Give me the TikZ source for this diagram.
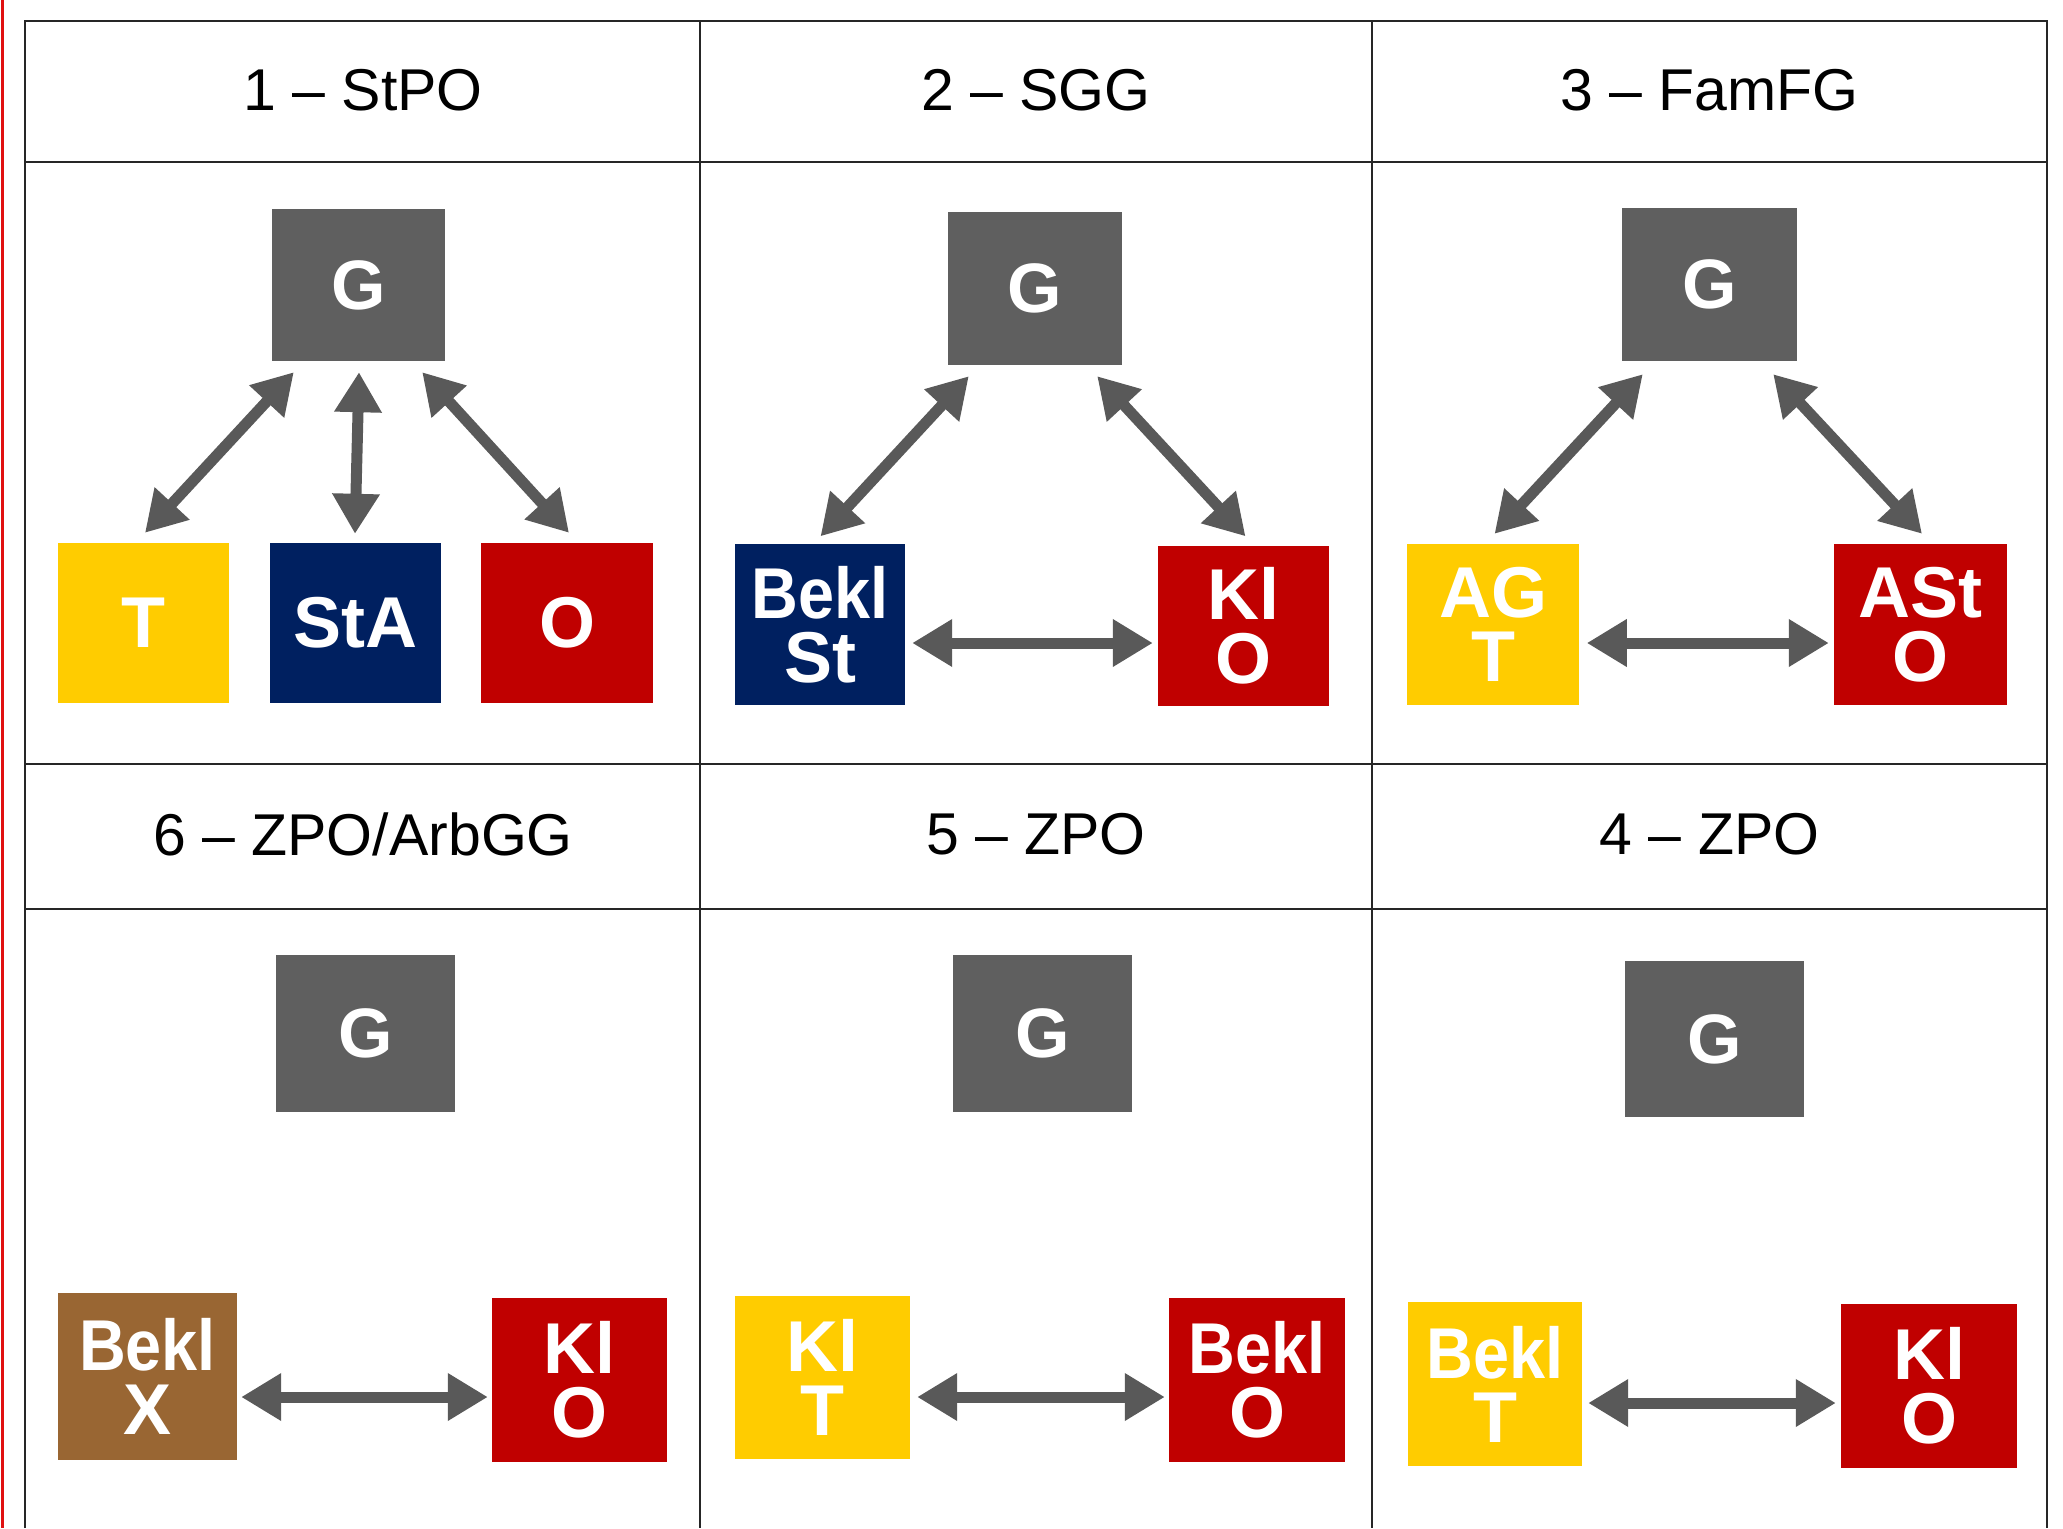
\documentclass[tikz,border=0pt]{standalone}
\usepackage{fontspec}
\setmainfont{Liberation Sans}
\usetikzlibrary{arrows.meta,calc}
\definecolor{ggray}{HTML}{5F5F5F}
\definecolor{gyell}{HTML}{FFCC00}
\definecolor{gnavy}{HTML}{002060}
\definecolor{gred}{HTML}{C00000}
\definecolor{gbrown}{HTML}{996633}
\definecolor{garrow}{HTML}{595959}
\definecolor{gline}{HTML}{262626}
\definecolor{gredline}{HTML}{E01010}
\newcommand\narrowtxt[1]{\scalebox{0.9}[1]{#1}}
\begin{document}
\begin{tikzpicture}[x=1pt,y=-1pt,
  lbl/.style={draw=none,inner sep=0pt,text=white,align=center,
    font=\fontsize{72}{64}\selectfont\bfseries},
  gbox/.style={lbl,fill=ggray,font=\fontsize{70}{64}\selectfont\bfseries},
  ybox/.style={lbl,fill=gyell},
  nbox/.style={lbl,fill=gnavy},
  rbox/.style={lbl,fill=gred},
  bbox/.style={lbl,fill=gbrown},
  sz/.style 2 args={minimum width=#1pt,minimum height=#2pt},
  head/.style={inner sep=0pt,text=black,font=\fontsize{59}{70}\selectfont},
  dbl/.style={draw=garrow,line width=11pt,
    {Triangle[width=45pt,length=40pt]}-{Triangle[width=45pt,length=40pt]}},
  grid/.style={draw=gline,line width=1.8pt}]
\useasboundingbox (0,0) rectangle (2063,1528);
\fill[white] (0,0) rectangle (2063,1528);
% red edge line
\draw[gredline,line width=3pt] (2.5,0) -- (2.5,1528);
% table
\draw[grid] (25,1528) -- (25,21) -- (2047,21) -- (2047,1528);
\draw[grid] (700,21) -- (700,1528);
\draw[grid] (1372,21) -- (1372,1528);
\draw[grid] (25,162) -- (2047,162);
\draw[grid] (25,764) -- (2047,764);
\draw[grid] (25,909) -- (2047,909);
% headers
\node[head] (h1) at (363,90) {1 – StPO};
\node[head] (h2) at (1036,90) {2 – SGG};
\node[head] (h3) at (1709.5,90) {3 – FamFG};
\node[head] (h6) at (363,834) {6 – ZPO/ArbGG};
\node[head] (h5) at (1036,834) {5 – ZPO};
\node[head] (h4) at (1709.5,834) {4 – ZPO};
% cell 1
\node[gbox,sz={173}{152}] (g1) at (358.5,285) {G};
\node[ybox,sz={171}{160}] (t1) at (143.5,623) {T};
\node[nbox,sz={171}{160}] (s1) at (355.5,623) {StA};
\node[rbox,sz={172}{160}] (o1) at (567,623) {O};
\draw[dbl] ($(g1.south west)+(22,11)$) -- ($(t1.north)+(1.5,-10)$);
\draw[dbl] ($(g1.south)+(0.5,11)$) -- ($(s1.north)+(-0.5,-9)$);
\draw[dbl] ($(g1.south east)+(-23,11)$) -- ($(o1.north)+(2,-10)$);
% cell 2
\node[gbox,sz={174}{153}] (g2) at (1035,288.5) {G};
\node[nbox,sz={170}{161}] (b2) at (820,624.5) {\narrowtxt{Bekl}\\St};
\node[rbox,sz={171}{160}] (k2) at (1243.5,626) {Kl\\O};
\draw[dbl] ($(g2.south west)+(21,11)$) -- ($(b2.north)+(0.5,-7.5)$);
\draw[dbl] ($(g2.south east)+(-25,11)$) -- ($(k2.north)+(2,-9.5)$);
\draw[dbl] ($(b2.east)+(7,18.5)$) -- ($(k2.west)+(-5,17)$);
% cell 3
\node[gbox,sz={175}{153}] (g3) at (1709.5,284.5) {G};
\node[ybox,sz={172}{161}] (a3) at (1493,624.5) {AG\\T};
\node[rbox,sz={173}{161}] (r3) at (1920.5,624.5) {ASt\\O};
\draw[dbl] ($(g3.south west)+(21,13)$) -- ($(a3.north)+(1.5,-10)$);
\draw[dbl] ($(g3.south east)+(-24,13)$) -- ($(r3.north)+(1.5,-10)$);
\draw[dbl] ($(a3.east)+(7.6,18.5)$) -- ($(r3.west)+(-5,18.5)$);
% cell 6
\node[gbox,sz={179}{157}] (g6) at (365.5,1033.5) {G};
\node[bbox,sz={179}{167}] (x6) at (147.5,1376.5) {\narrowtxt{Bekl}\\X};
\node[rbox,sz={175}{164}] (k6) at (579.5,1380) {Kl\\O};
\draw[dbl] ($(x6.east)+(4,20.5)$) -- ($(k6.west)+(-4,17)$);
% cell 5
\node[gbox,sz={179}{157}] (g5) at (1042.5,1033.5) {G};
\node[ybox,sz={175}{163}] (k5) at (822.5,1377.5) {Kl\\T};
\node[rbox,sz={176}{164}] (b5) at (1257,1380) {\narrowtxt{Bekl}\\O};
\draw[dbl] ($(k5.east)+(7,19.5)$) -- ($(b5.west)+(-4,17)$);
% cell 4
\node[gbox,sz={179}{156}] (g4) at (1714.5,1039) {G};
\node[ybox,sz={174}{164}] (b4) at (1495,1384) {\narrowtxt{Bekl}\\T};
\node[rbox,sz={176}{164}] (k4) at (1929,1386) {Kl\\O};
\draw[dbl] ($(b4.east)+(6,19)$) -- ($(k4.west)+(-5,17)$);
\end{tikzpicture}
\end{document}
